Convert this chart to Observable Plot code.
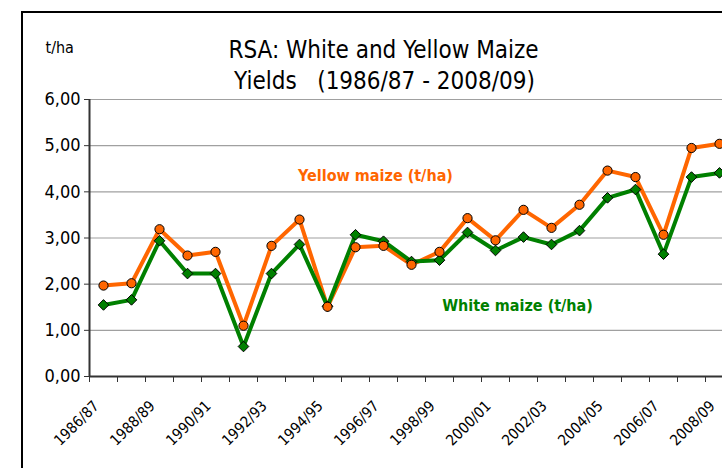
<!DOCTYPE html>
<html>
<head>
<meta charset="utf-8">
<script src="https://cdn.jsdelivr.net/npm/d3@7"></script>
<script src="https://cdn.jsdelivr.net/npm/@observablehq/plot@0.6"></script>
<style>
  html, body { margin: 0; padding: 0; background: #fff; }
  #wrap { position: relative; width: 722px; height: 468px; overflow: hidden; }
  #frame { position: absolute; left: 21px; top: 11px; width: 800px; height: 600px;
           border-left: 2px solid #000; border-top: 2px solid #000; pointer-events: none; }
  svg { font-family: 'DejaVu Sans Condensed', 'DejaVu Sans', sans-serif; font-stretch: condensed; }
</style>
</head>
<body>
<div id="wrap"><div id="chart"></div><div id="frame"></div></div>
<script>
const seasons = ["1986/87","1987/88","1988/89","1989/90","1990/91","1991/92","1992/93","1993/94",
  "1994/95","1995/96","1996/97","1997/98","1998/99","1999/00","2000/01","2001/02","2002/03",
  "2003/04","2004/05","2005/06","2006/07","2007/08","2008/09"];
const yellowMaize = [1.97,2.02,3.19,2.62,2.70,1.10,2.83,3.40,1.51,2.80,2.83,2.42,2.70,3.43,2.95,3.61,3.22,3.72,4.46,4.32,3.07,4.95,5.04];
const whiteMaize  = [1.55,1.66,2.94,2.23,2.23,0.65,2.23,2.86,1.52,3.07,2.93,2.49,2.52,3.12,2.73,3.02,2.86,3.16,3.87,4.05,2.65,4.32,4.41];
const yTicks = [0,1,2,3,4,5,6];
const xLabels = seasons.filter((d, i) => i % 2 === 0);
const titleLines = ["RSA: White and Yellow Maize", "Yields   (1986/87 - 2008/09)"];
const unitLabel = "t/ha";
const annotations = [
  {text: "Yellow maize (t/ha)", season: "1996/97", value: 4.35, color: "#ff6600", dx: -8},
  {text: "White maize (t/ha)", season: "2001/02", value: 1.54, color: "#008000", dx: -6}
];

const yellowColor = "#ff6600";
const whiteColor = "#008000";

const yellowData = seasons.map((s, i) => ({season: s, value: yellowMaize[i]}));
const whiteData = seasons.map((s, i) => ({season: s, value: whiteMaize[i]}));
const fmt = d => d.toFixed(2).replace(".", ",");

const chart = Plot.plot({
  width: 722,
  height: 468,
  marginLeft: 89,
  marginRight: 0,
  marginTop: 99,
  marginBottom: 92,
  x: {type: "band", domain: seasons, range: [89, 733], padding: 0},
  y: {domain: [0, 6]},
  style: {background: "transparent", color: "#000", overflow: "hidden"},
  marks: [
    Plot.ruleY(yTicks.slice(1), {stroke: "#a0a0a0", strokeWidth: 1.2}),
    Plot.ruleY([0], {stroke: "#333", strokeWidth: 2}),
    Plot.ruleX([seasons[0]], {dx: -14, stroke: "#333", strokeWidth: 2}),
    Plot.axisY({ticks: yTicks, tickFormat: fmt, tickSize: 5, tickPadding: 4, fontSize: 18,
                label: null, stroke: "#333", fill: "#000"}),
    Plot.axisX({ticks: seasons, tickSize: 6, tickFormat: () => "", dx: -14, label: null, stroke: "#333"}),
    Plot.text(xLabels, {x: d => d, frameAnchor: "bottom", dx: -7, dy: 27, rotate: -45,
                        textAnchor: "end", lineAnchor: "middle", fontSize: 15, fill: "#000"}),
    Plot.line(yellowData, {x: "season", y: "value", stroke: yellowColor, strokeWidth: 4}),
    Plot.line(whiteData, {x: "season", y: "value", stroke: whiteColor, strokeWidth: 4}),
    Plot.dot(whiteData, {x: "season", y: "value", symbol: "diamond2", r: 4.8, fill: whiteColor, stroke: "#000", strokeWidth: 1}),
    Plot.dot(yellowData, {x: "season", y: "value", symbol: "circle", r: 4.6, fill: yellowColor, stroke: "#000", strokeWidth: 1}),
    Plot.text([annotations[0]], {x: "season", y: "value", text: "text", dx: annotations[0].dx, fill: "color", fontWeight: "bold", fontSize: 16}),
    Plot.text([annotations[1]], {x: "season", y: "value", text: "text", dx: annotations[1].dx, fill: "color", fontWeight: "bold", fontSize: 16}),
    Plot.text([titleLines[0]], {frameAnchor: "top-left", dx: 294, dy: -42, lineAnchor: "bottom", textAnchor: "middle", fontSize: 24, fill: "#000"}),
    Plot.text([titleLines[1]], {frameAnchor: "top-left", dx: 295, dy: -11, lineAnchor: "bottom", textAnchor: "middle", fontSize: 24, fill: "#000"}),
    Plot.text([unitLabel], {frameAnchor: "top-left", dx: -44, dy: -47, lineAnchor: "bottom", textAnchor: "start", fontSize: 16, fill: "#000"})
  ]
});
document.getElementById("chart").appendChild(chart);
</script>
</body>
</html>
